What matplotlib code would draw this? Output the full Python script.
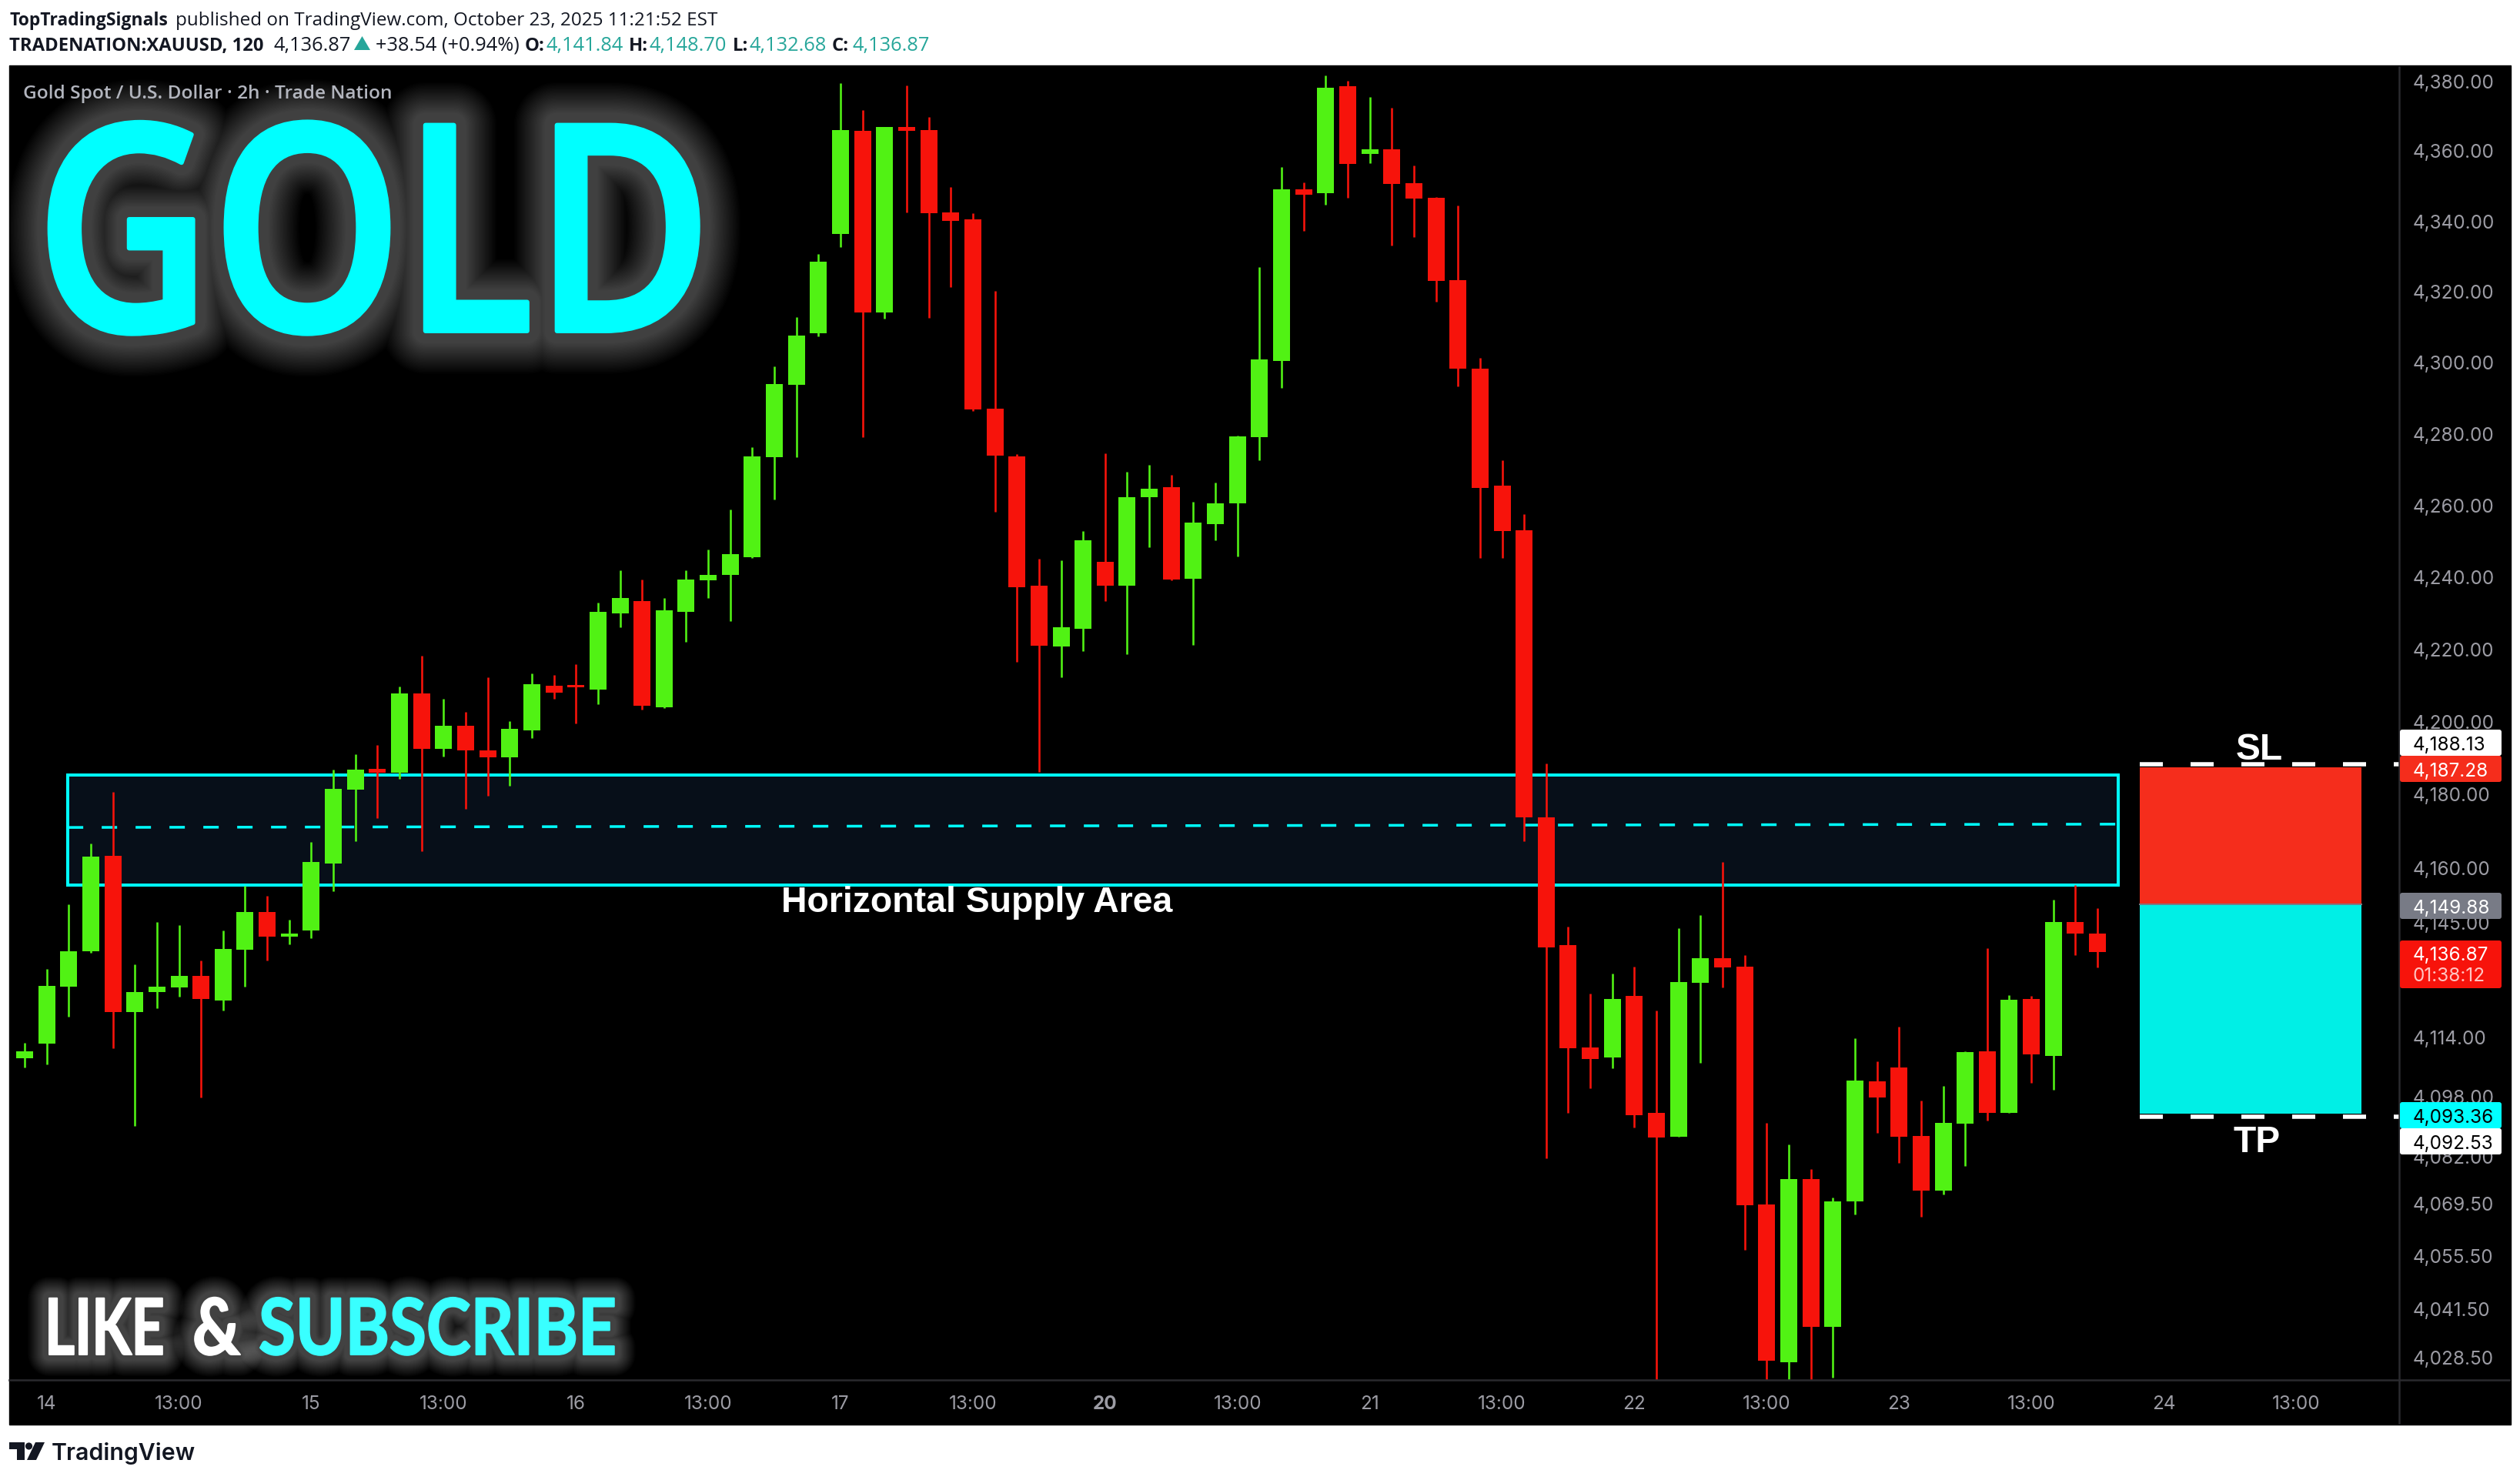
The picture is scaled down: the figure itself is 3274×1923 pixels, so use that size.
import matplotlib

matplotlib.use("Agg")
import matplotlib.patheffects as path_effects
import matplotlib.pyplot as plt
from matplotlib.patches import FancyBboxPatch, Polygon, Rectangle
from matplotlib.ticker import NullLocator
from matplotlib.transforms import Affine2D

W, H = 3274, 1924

# candles, one per 2h bar
directions = (
    "GGGGRGGGRG" "GRGGGGRGRG" "RRGGRRGGRG" "GGGGGGGGRG" "RRRRRRRGGR"
    "GGRGGGGGRG" "RGRRRRRRRR" "RRGRRGGRRR" "GRGGRRRGGR" "GRGRR"
)
highs = [
    4112.4, 4132.2, 4149.8, 4166.4, 4180.5, 4133.6, 4145.1, 4144.3, 4134.5, 4142.8,
    4154.9, 4152.2, 4145.7, 4166.8, 4186.6, 4190.9, 4193.4, 4209.6, 4218.1, 4206.2,
    4202.6, 4212.1, 4199.9, 4213.0, 4212.6, 4215.7, 4232.8, 4241.7, 4239.1, 4233.9,
    4241.7, 4247.4, 4258.5, 4276.0, 4298.7, 4312.6, 4330.5, 4379.2, 4371.6, 4366.7,
    4378.5, 4369.6, 4349.6, 4342.0, 4320.0, 4274.0, 4244.8, 4244.5, 4252.5, 4274.4,
    4269.1, 4271.0, 4268.2, 4260.7, 4266.1, 4279.2, 4326.9, 4355.3, 4350.8, 4381.4,
    4380.0, 4375.4, 4372.2, 4355.7, 4346.7, 4344.2, 4301.2, 4272.3, 4257.4, 4188.3,
    4143.8, 4125.7, 4131.1, 4133.0, 4121.1, 4143.3, 4147.0, 4161.4, 4136.0, 4090.8,
    4085.0, 4078.4, 4070.9, 4113.6, 4107.3, 4116.6, 4096.9, 4100.7, 4110.0, 4138.0,
    4125.2, 4125.0, 4151.1, 4155.0, 4148.70,
]
body_tops = [
    4110.1, 4127.8, 4137.2, 4162.8, 4163.0, 4126.1, 4127.6, 4130.5, 4130.5, 4137.8,
    4147.7, 4147.7, 4142.0, 4161.4, 4181.3, 4186.6, 4186.8, 4207.5, 4207.5, 4198.6,
    4198.6, 4191.9, 4197.8, 4210.2, 4209.8, 4210.0, 4230.1, 4233.9, 4233.2, 4230.5,
    4239.1, 4240.4, 4246.2, 4273.4, 4293.8, 4307.5, 4328.3, 4365.9, 4365.7, 4366.6,
    4366.6, 4365.9, 4342.4, 4340.3, 4286.8, 4273.4, 4237.3, 4225.8, 4250.1, 4244.1,
    4262.0, 4264.5, 4264.8, 4254.9, 4260.4, 4279.0, 4300.6, 4348.8, 4348.8, 4378.0,
    4378.3, 4360.3, 4360.3, 4350.6, 4346.4, 4323.1, 4298.2, 4265.3, 4252.9, 4173.6,
    4138.7, 4111.1, 4124.2, 4125.0, 4093.5, 4128.8, 4135.2, 4135.2, 4132.9, 4069.1,
    4075.7, 4075.7, 4069.9, 4102.2, 4102.0, 4105.7, 4087.4, 4090.9, 4109.8, 4110.0,
    4124.0, 4124.2, 4145.0, 4145.1, 4141.84,
]
body_bottoms = [
    4108.2, 4112.2, 4127.6, 4137.0, 4120.7, 4120.7, 4126.0, 4127.4, 4124.1, 4123.8,
    4137.6, 4141.1, 4141.1, 4142.8, 4160.9, 4181.1, 4185.8, 4185.8, 4192.3, 4192.3,
    4191.9, 4190.0, 4190.0, 4197.5, 4207.7, 4209.2, 4208.7, 4229.8, 4204.1, 4203.8,
    4230.2, 4239.0, 4240.3, 4245.4, 4273.2, 4293.5, 4308.1, 4336.2, 4314.0, 4314.0,
    4365.7, 4342.1, 4339.9, 4286.6, 4273.6, 4237.0, 4220.8, 4220.5, 4225.5, 4237.3,
    4237.3, 4262.0, 4239.1, 4239.4, 4254.6, 4260.3, 4278.8, 4300.2, 4347.3, 4347.7,
    4356.1, 4358.9, 4350.4, 4346.2, 4322.9, 4298.0, 4264.7, 4252.7, 4173.6, 4138.2,
    4110.8, 4108.0, 4108.5, 4092.8, 4086.9, 4087.1, 4128.6, 4132.7, 4068.9, 4027.5,
    4027.2, 4036.5, 4036.5, 4069.9, 4097.7, 4087.2, 4072.7, 4072.7, 4090.7, 4093.6,
    4093.6, 4109.2, 4108.8, 4141.8, 4136.87,
]
lows = [
    4105.7, 4106.6, 4119.5, 4136.7, 4110.9, 4090.1, 4121.7, 4124.9, 4097.6, 4121.1,
    4127.6, 4134.5, 4139.0, 4140.6, 4153.4, 4167.0, 4173.4, 4184.0, 4164.3, 4190.2,
    4175.8, 4179.4, 4182.2, 4195.2, 4206.0, 4199.3, 4204.7, 4225.8, 4203.2, 4203.6,
    4221.9, 4234.0, 4227.5, 4245.2, 4261.3, 4273.2, 4307.2, 4332.4, 4278.9, 4312.2,
    4342.3, 4312.4, 4321.1, 4286.2, 4257.9, 4216.4, 4186.0, 4212.1, 4219.3, 4233.2,
    4218.5, 4248.2, 4238.9, 4221.0, 4250.1, 4245.6, 4272.3, 4292.7, 4337.1, 4344.5,
    4346.5, 4356.4, 4332.9, 4335.3, 4316.9, 4293.2, 4245.1, 4245.2, 4167.0, 4081.4,
    4093.6, 4100.2, 4105.5, 4089.6, 4015.0, 4087.1, 4106.9, 4127.3, 4056.9, 4015.0,
    4015.0, 4015.0, 4023.2, 4066.4, 4088.1, 4080.1, 4065.7, 4071.7, 4079.2, 4091.5,
    4093.6, 4101.5, 4099.7, 4136.0, 4132.68,
]

# supply band, dashed midline and the position tool
band_top, band_bottom = 4185.2, 4155.0
mid_start, mid_end = 4170.8, 4171.7
stop_level, entry_level, target_level = 4187.28, 4149.88, 4093.36
stop_mark, target_mark = 4188.13, 4092.53

y_ticks = [
    4380, 4360, 4340, 4320, 4300, 4280, 4260, 4240, 4220, 4200, 4180, 4160,
    4145, 4114, 4098, 4082, 4069.5, 4055.5, 4041.5, 4028.5,
]
x_ticks = [1, 7, 13, 19, 25, 31, 37, 43, 49, 55, 61, 67, 73, 79, 85, 91, 97, 103]
x_labels = [
    "14", "13:00", "15", "13:00", "16", "13:00", "17", "13:00", "20",
    "13:00", "21", "13:00", "22", "13:00", "23", "13:00", "24", "13:00",
]

GREEN = "#51F214"
RED = "#F7130B"
CYAN = "#00FFFF"
AXIS_TEXT = "#9C9CA4"
SEPARATOR = "#2A2A2E"
INK = "#131722"
TEAL = "#26A69A"
UI_FONT = "Open Sans"
AXIS_FONT = "Inter"

plt.rcParams["lines.scale_dashes"] = False


def px(n):
    return n * 72 / 100


class TallGlow(path_effects.AbstractPathEffect):
    """Stretch text upward from its baseline and draw a soft halo behind it."""

    def __init__(self, stretch=1.0, glow=0.0, inner=0.0, layers=0, alpha=0.0, thicken=0.0):
        super().__init__()
        self.stretch, self.glow, self.inner = stretch, glow, inner
        self.layers, self.alpha, self.thicken = layers, alpha, thicken

    def _stroke(self, renderer, gc, tpath, affine, width, color):
        layer = renderer.new_gc()
        layer.copy_properties(gc)
        layer.set_linewidth(px(width))
        layer.set_foreground(color)
        layer.set_joinstyle("round")
        layer.set_capstyle("round")
        renderer.draw_path(layer, tpath, affine, None)
        layer.restore()

    def draw_path(self, renderer, gc, tpath, affine, rgbFace=None):
        scaled = Affine2D().scale(1, self.stretch) + affine
        for k in range(self.layers):
            reach = self.glow + (self.inner - self.glow) * k / max(self.layers - 1, 1)
            self._stroke(renderer, gc, tpath, scaled, 2 * reach, (1, 1, 1, self.alpha))
        if self.thicken:
            self._stroke(renderer, gc, tpath, scaled, self.thicken, rgbFace)
        renderer.draw_path(gc, tpath, scaled, rgbFace)


fig = plt.figure(figsize=(W / 100, H / 100), dpi=100, facecolor="white")
fig.add_artist(Rectangle((12 / W, 1 - 1852 / H), 3250 / W, 1766 / H, transform=fig.transFigure, color="black", zorder=-5))

ax = fig.add_axes([12 / W, 1 - 1794 / H, 3104.7 / W, 1708 / H], facecolor="black")
ax.set_yscale("log")
ax.set_xlim(-0.698, 107.67)
ax.set_ylim(4022.5, 4384.35)
for spine in ax.spines.values():
    spine.set_visible(False)

# supply band
ax.add_patch(
    Rectangle((1.96, band_bottom), 92.98, band_top - band_bottom, facecolor="#070F19", edgecolor=CYAN, linewidth=px(4), zorder=1)
)
ax.plot([1.96, 94.94], [mid_start, mid_end], color=CYAN, linewidth=px(3.5), dashes=(px(20), px(24)), zorder=1.5)

# candles
positions = list(range(len(highs)))
colors = [GREEN if d == "G" else RED for d in directions]
ax.vlines(positions, lows, highs, colors=colors, linewidth=px(2.6), zorder=2)
ax.bar(
    positions,
    [t - b for t, b in zip(body_tops, body_bottoms)],
    bottom=body_bottoms,
    width=0.768,
    color=colors,
    linewidth=0,
    zorder=3,
)

# position tool
ax.add_patch(Rectangle((95.93, entry_level), 10.05, stop_level - entry_level, color="#F52D1C", linewidth=0, zorder=2))
ax.add_patch(Rectangle((95.93, target_level), 10.05, entry_level - target_level, color="#00EFE6", linewidth=0, zorder=2))
ax.plot([95.93, 105.98], [entry_level, entry_level], color="#787B86", linewidth=px(2), zorder=2.5)
for level in (stop_mark, target_mark):
    ax.plot([95.93, 107.67], [level, level], color="white", linewidth=px(5.5), dashes=(px(30), px(36)), zorder=2.5)

ax.minorticks_off()
ax.yaxis.tick_right()
ax.set_yticks(y_ticks)
ax.set_yticklabels([f"{v:,.2f}" for v in y_ticks], fontfamily=AXIS_FONT, fontsize=17.5, color=AXIS_TEXT)
ax.yaxis.set_minor_locator(NullLocator())
ax.set_xticks(x_ticks)
ax.set_xticklabels(x_labels, fontfamily=AXIS_FONT, fontsize=17.5, color=AXIS_TEXT)
ax.get_xticklabels()[8].set_fontweight("bold")
ax.tick_params(axis="y", length=0, pad=px(18))
ax.tick_params(axis="x", length=0, pad=px(19))

# everything below sits in picture pixels
over = fig.add_axes([0, 0, 1, 1], facecolor="none")
over.set_xlim(0, W)
over.set_ylim(H, 0)
over.axis("off")

over.plot([3116.7, 3116.7], [88, 1850], color=SEPARATOR, linewidth=px(2.5), zorder=1)
over.plot([12, 3260], [1794, 1794], color=SEPARATOR, linewidth=px(2.5), zorder=1)


def ui_text(x, y, s, color=INK, weight="normal", size=17.5, family=UI_FONT):
    return over.text(x, y, s, color=color, fontweight=weight, fontsize=size, fontfamily=family, ha="left", va="baseline")


ui_text(12.5, 33, "TopTradingSignals", weight="bold", size=16.5)
ui_text(228, 33, "published on TradingView.com, October 23, 2025 11:21:52 EST")
ui_text(12.5, 66, "TRADENATION:XAUUSD, 120", weight="bold", size=17.2)
ui_text(355, 66, "4,136.87", size=18.3)
over.add_patch(Polygon([[460, 66], [481, 66], [470.5, 48]], color=TEAL, linewidth=0))
ui_text(488, 66, "+38.54 (+0.94%)", size=18.3)
for x_key, key, x_val, val in [
    (682, "O:", 710, "4,141.84"),
    (817, "H:", 844, "4,148.70"),
    (952, "L:", 973, "4,132.68"),
    (1081, "C:", 1107, "4,136.87"),
]:
    ui_text(x_key, 66, key, weight="bold", size=17.2)
    ui_text(x_val, 66, val, color=TEAL, size=18.3)

ui_text(30, 128, "Gold Spot / U.S. Dollar · 2h · Trade Nation", color="#B2B5BE", weight="semibold", size=17.6)

gold = over.text(46, 431, "GOLD", color=CYAN, fontsize=227, fontfamily="Open Sans", fontweight="semibold", ha="left", va="baseline")
gold.set_path_effects([TallGlow(stretch=1.188, glow=56, inner=16, layers=32, alpha=0.011, thicken=6)])

for x, s, color, size, stretch in [
    (58, "LIKE", "white", 54, 1.35),
    (250, "&", "white", 62, 1.18),
    (336, "SUBSCRIBE", "#39FFFF", 62.8, 1.162),
]:
    t = over.text(x, 1761, s, color=color, fontsize=size, fontfamily="Lato", fontweight="bold", ha="left", va="baseline")
    t.set_path_effects([TallGlow(stretch=stretch, glow=28, inner=8, layers=22, alpha=0.015, thicken=2)])

for x, y, s, size in [
    (1015, 1185, "Horizontal Supply Area", 33.4),
    (2905, 987, "SL", 34.5),
    (2902, 1497, "TP", 34.5),
]:
    over.text(x, y, s, color="white", fontsize=size, fontfamily="Liberation Sans", fontweight="bold", ha="left", va="baseline")

# price labels on the scale
price_labels = [
    (949, 983, "4,188.13", "white", "black"),
    (983, 1017, "4,187.28", "#F52D1C", "white"),
    (1161, 1195, "4,149.88", "#787B86", "white"),
    (1433, 1467, "4,093.36", CYAN, "black"),
    (1467, 1501, "4,092.53", "white", "black"),
]
for top, bottom, s, face, ink in price_labels:
    over.add_patch(
        FancyBboxPatch((3118, top), 132, bottom - top, boxstyle="round,pad=0,rounding_size=3", facecolor=face, linewidth=0, zorder=3)
    )
    over.text(3135, (top + bottom) / 2, s, color=ink, fontsize=17.5, fontfamily=AXIS_FONT, va="center_baseline", ha="left", zorder=4)
over.add_patch(
    FancyBboxPatch((3118, 1223), 132, 62, boxstyle="round,pad=0,rounding_size=3", facecolor=RED, linewidth=0, zorder=3)
)
over.text(3135, 1239, "4,136.87", color="white", fontsize=17.5, fontfamily=AXIS_FONT, va="center_baseline", ha="left", zorder=4)
over.text(3135, 1266, "01:38:12", color="#FFC4C2", fontsize=17.5, fontfamily=AXIS_FONT, va="center_baseline", ha="left", zorder=4)

# footer logo
over.add_patch(Polygon([[12, 1875], [32, 1875], [32, 1898], [22, 1898], [22, 1884], [12, 1884]], color=INK, linewidth=0))
over.add_patch(plt.Circle((37.5, 1880), 4.6, color=INK, linewidth=0))
over.add_patch(Polygon([[46, 1875], [58, 1875], [47, 1898], [35, 1898]], color=INK, linewidth=0))
ui_text(67, 1897, "TradingView", weight="semibold", size=21.8, family="Inter")

fig.savefig("out.png", dpi=100)
